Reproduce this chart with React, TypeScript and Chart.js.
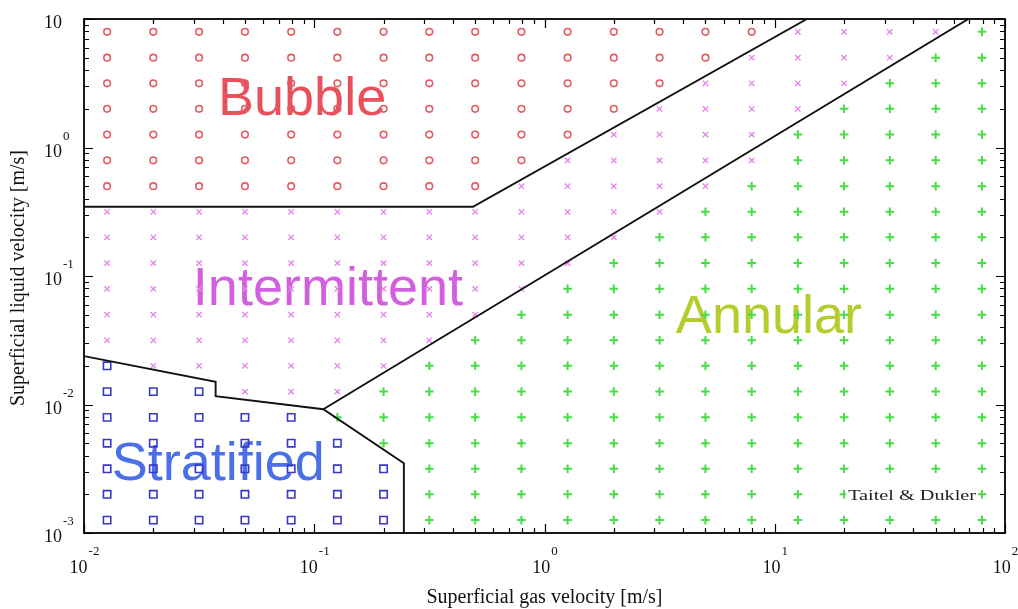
import React, { useEffect, useRef } from 'react';
import { Chart, registerables } from 'chart.js';

Chart.register(...registerables);

// Grid of sampled superficial velocities [m/s]
const gasVelocity = [0.0126, 0.02, 0.0316, 0.05, 0.0794, 0.126, 0.2, 0.316, 0.5, 0.794, 1.26, 2, 3.16, 5, 7.94, 12.6, 20, 31.6, 50, 79.4];
const liquidVelocity = [7.94, 5, 3.16, 2, 1.26, 0.794, 0.5, 0.316, 0.2, 0.126, 0.0794, 0.05, 0.0316, 0.02, 0.0126, 0.00794, 0.005, 0.00316, 0.002, 0.00126];

// Regime of each grid point, one string per liquid velocity row (top to bottom),
// one character per gas velocity column: B bubble, I intermittent, A annular, S stratified
const regimeMap = [
  'BBBBBBBBBBBBBBBIIIIA',
  'BBBBBBBBBBBBBBIIIIAA',
  'BBBBBBBBBBBBBIIIIAAA',
  'BBBBBBBBBBBBIIIIAAAA',
  'BBBBBBBBBBBIIIIAAAAA',
  'BBBBBBBBBBIIIIIAAAAA',
  'BBBBBBBBBIIIIIAAAAAA',
  'IIIIIIIIIIIIIAAAAAAA',
  'IIIIIIIIIIIIAAAAAAAA',
  'IIIIIIIIIIIAAAAAAAAA',
  'IIIIIIIIIIAAAAAAAAAA',
  'IIIIIIIIIAAAAAAAAAAA',
  'IIIIIIIIAAAAAAAAAAAA',
  'SIIIIIIAAAAAAAAAAAAA',
  'SSSIIIAAAAAAAAAAAAAA',
  'SSSSSAAAAAAAAAAAAAAA',
  'SSSSSSAAAAAAAAAAAAAA',
  'SSSSSSSAAAAAAAAAAAAA',
  'SSSSSSSAAAAAAAAAAAAA',
  'SSSSSSSAAAAAAAAAAAAA',
];

// Transition boundaries (Taitel & Dukler)
const bubbleBoundaryX = [0.01, 0.489, 13.8];
const bubbleBoundaryY = [0.346, 0.346, 10];
const annularBoundaryX = [0.1095, 69.3];
const annularBoundaryY = [0.00918, 10];
const stratifiedBoundaryX = [0.01, 0.0373, 0.0373, 0.1095, 0.245, 0.245];
const stratifiedBoundaryY = [0.0238, 0.015, 0.0116, 0.00918, 0.00349, 0.001];

// Axis tick labels (powers of ten)
const xTickDecades = [-2, -1, 0, 1, 2];
const xTickExponents = ['-2', '-1', '0', '1', '2'];
const yTickDecades = [-3, -2, -1, 0, 1];
const yTickExponents = ['-3', '-2', '-1', '0', ''];

// Region labels
const regionNames = ['Bubble', 'Intermittent', 'Annular', 'Stratified'];
const regionLabelX = [0.0382, 0.0297, 3.72, 0.0132];
const regionLabelY = [1.79, 0.0595, 0.036, 0.00259];
const regionColors = ['#e8505c', '#d35fe0', '#b6cc2c', '#4a6fe6'];

const creditText = 'Taitel & Dukler';
const creditX = 39.5;
const creditY = 0.00181;

function pointsFor(code: string) {
  const pts: { x: number; y: number }[] = [];
  regimeMap.forEach((row, r) => {
    for (let c = 0; c < row.length; c++) {
      if (row[c] === code) pts.push({ x: gasVelocity[c], y: liquidVelocity[r] });
    }
  });
  return pts;
}

function zip(xs: number[], ys: number[]) {
  return xs.map((x, i) => ({ x, y: ys[i] }));
}

const SERIF = '"Liberation Serif", "Times New Roman", serif';
const SANS = '"Liberation Sans", Arial, sans-serif';

const decorPlugin = {
  id: 'decor',
  beforeDatasetsDraw(chart: any) {
    const ctx = chart.ctx as CanvasRenderingContext2D;
    const xs = chart.scales.x;
    const ys = chart.scales.y;
    const { left, top, right, bottom } = chart.chartArea;
    ctx.save();
    ctx.beginPath();
    ctx.rect(left, top, right - left, bottom - top);
    ctx.clip();
    ctx.font = '54px ' + SANS;
    ctx.textAlign = 'left';
    ctx.textBaseline = 'alphabetic';
    regionNames.forEach((name, i) => {
      ctx.fillStyle = regionColors[i];
      ctx.fillText(name, xs.getPixelForValue(regionLabelX[i]), ys.getPixelForValue(regionLabelY[i]));
    });
    ctx.restore();
  },
  afterDatasetsDraw(chart: any) {
    const ctx = chart.ctx as CanvasRenderingContext2D;
    const xs = chart.scales.x;
    const ys = chart.scales.y;
    const { left, top, right, bottom } = chart.chartArea;
    ctx.save();

    // credit text with white box
    const cx = xs.getPixelForValue(creditX);
    const cy = ys.getPixelForValue(creditY);
    ctx.font = '15px ' + SERIF;
    const sx = 1.35;
    const tw = ctx.measureText(creditText).width * sx;
    ctx.fillStyle = '#ffffff';
    ctx.fillRect(cx - tw / 2 - 2, cy - 13, tw + 4, 17);
    ctx.save();
    ctx.translate(cx, cy);
    ctx.scale(sx, 1);
    ctx.fillStyle = '#222';
    ctx.textAlign = 'center';
    ctx.textBaseline = 'alphabetic';
    ctx.fillText(creditText, 0, 0);
    ctx.restore();

    // frame
    ctx.strokeStyle = '#000';
    ctx.lineWidth = 1.8;
    ctx.strokeRect(left, top, right - left, bottom - top);

    // inward ticks on all four sides
    ctx.lineWidth = 1.2;
    ctx.beginPath();
    for (let d = -2; d <= 2; d++) {
      for (let m = 1; m <= 9; m++) {
        if (d === 2 && m > 1) break;
        const v = m * Math.pow(10, d);
        const px = Math.round(xs.getPixelForValue(v)) + 0.5;
        const len = m === 1 ? 9 : 5;
        ctx.moveTo(px, bottom);
        ctx.lineTo(px, bottom - len);
        ctx.moveTo(px, top);
        ctx.lineTo(px, top + len);
      }
    }
    for (let d = -3; d <= 1; d++) {
      for (let m = 1; m <= 9; m++) {
        if (d === 1 && m > 1) break;
        const v = m * Math.pow(10, d);
        const py = Math.round(ys.getPixelForValue(v)) + 0.5;
        const len = m === 1 ? 9 : 5;
        ctx.moveTo(left, py);
        ctx.lineTo(left + len, py);
        ctx.moveTo(right, py);
        ctx.lineTo(right - len, py);
      }
    }
    ctx.stroke();

    // tick labels
    ctx.fillStyle = '#111';
    ctx.textBaseline = 'alphabetic';
    const baseFont = '18px ' + SERIF;
    const expFont = '13px ' + SERIF;
    xTickDecades.forEach((d, i) => {
      const px = xs.getPixelForValue(Math.pow(10, d));
      ctx.font = baseFont;
      const wb = ctx.measureText('10').width;
      ctx.font = expFont;
      const we = ctx.measureText(xTickExponents[i]).width;
      const start = px - (wb + we) / 2;
      ctx.textAlign = 'left';
      ctx.font = baseFont;
      ctx.fillText('10', start, bottom + 40);
      ctx.font = expFont;
      ctx.fillText(xTickExponents[i], start + wb + 1, bottom + 22);
    });
    yTickDecades.forEach((d, i) => {
      const py = ys.getPixelForValue(Math.pow(10, d));
      ctx.font = baseFont;
      ctx.textAlign = 'right';
      ctx.fillText('10', left - 22, py + 9);
      if (yTickExponents[i]) {
        ctx.font = expFont;
        ctx.textAlign = 'left';
        ctx.fillText(yTickExponents[i], left - 21, py - 8);
      }
    });

    // axis titles
    ctx.font = '20px ' + SERIF;
    ctx.textAlign = 'center';
    ctx.fillText('Superficial gas velocity [m/s]', (left + right) / 2, bottom + 70);
    ctx.save();
    ctx.translate(24, (top + bottom) / 2 + 2);
    ctx.rotate(-Math.PI / 2);
    ctx.fillText('Superficial liquid velocity [m/s]', 0, 0);
    ctx.restore();

    ctx.restore();
  },
};

export default function App() {
  const canvasRef = useRef<HTMLCanvasElement | null>(null);

  useEffect(() => {
    if (!canvasRef.current) return;
    const lineStyle = {
      type: 'line' as const,
      showLine: true,
      borderColor: '#111111',
      borderWidth: 1.9,
      pointRadius: 0,
      fill: false,
      tension: 0,
    };
    const chart = new Chart(canvasRef.current, {
      type: 'scatter',
      data: {
        datasets: [
          { ...lineStyle, label: 'Bubble boundary', data: zip(bubbleBoundaryX, bubbleBoundaryY) },
          { ...lineStyle, label: 'Annular boundary', data: zip(annularBoundaryX, annularBoundaryY) },
          { ...lineStyle, label: 'Stratified boundary', data: zip(stratifiedBoundaryX, stratifiedBoundaryY) },
          {
            label: 'Bubble',
            data: pointsFor('B'),
            pointStyle: 'circle',
            pointRadius: 3.3,
            pointBorderWidth: 1.6,
            borderColor: '#e25a62',
            backgroundColor: 'rgba(0,0,0,0)',
          },
          {
            label: 'Intermittent',
            data: pointsFor('I'),
            pointStyle: 'crossRot',
            pointRadius: 3.8,
            pointBorderWidth: 1.3,
            borderColor: '#e283e8',
            backgroundColor: '#e283e8',
          },
          {
            label: 'Annular',
            data: pointsFor('A'),
            pointStyle: 'cross',
            pointRadius: 4.3,
            pointBorderWidth: 2,
            borderColor: '#48dc48',
            backgroundColor: '#48dc48',
          },
          {
            label: 'Stratified',
            data: pointsFor('S'),
            pointStyle: 'rect',
            pointRadius: 5.2,
            pointBorderWidth: 1.6,
            borderColor: '#3838c8',
            backgroundColor: 'rgba(0,0,0,0)',
          },
        ] as any,
      },
      options: {
        animation: false,
        responsive: false,
        devicePixelRatio: 1,
        events: [],
        layout: { padding: { left: 84, right: 13, top: 19, bottom: 76 } },
        plugins: { legend: { display: false }, tooltip: { enabled: false } },
        scales: {
          x: { type: 'logarithmic', min: 0.01, max: 100, display: false },
          y: { type: 'logarithmic', min: 0.001, max: 10, display: false },
        },
      },
      plugins: [decorPlugin],
    });
    return () => chart.destroy();
  }, []);

  return (
    <div style={{ position: 'fixed', left: 0, top: 0, width: 1018, height: 609, background: '#fff' }}>
      <canvas ref={canvasRef} width={1018} height={609} style={{ display: 'block' }} />
    </div>
  );
}
